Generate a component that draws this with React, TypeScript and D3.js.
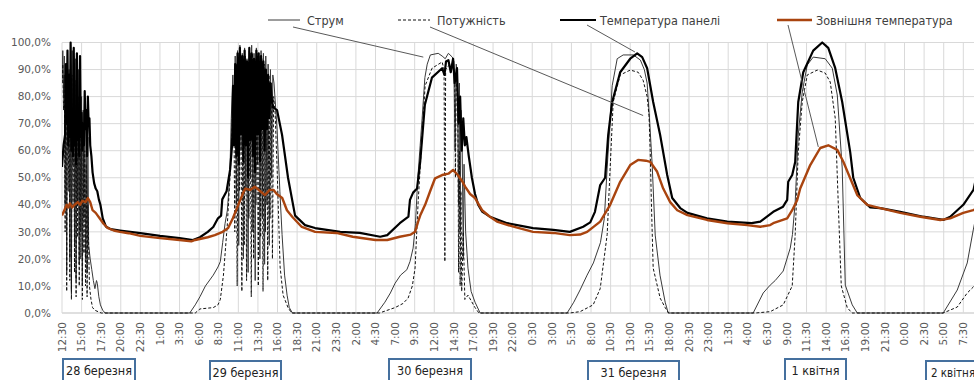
import React from "react";
import * as d3 from "d3";

type Pt = [number, number];

// hours since 28 березня 12:30, step between axis labels = 2.5 h
const tickStepHours = 2.5;
const xTickLabels = [
  "12:30", "15:00", "17:30", "20:00", "22:30", "1:00", "3:30", "6:00", "8:30", "11:00",
  "13:30", "16:00", "18:30", "21:00", "23:30", "2:00", "4:30", "7:00", "9:30", "12:00",
  "14:30", "17:00", "19:30", "22:00", "0:30", "3:00", "5:30", "8:00", "10:30", "13:00",
  "15:30", "18:00", "20:30", "23:00", "1:30", "4:00", "6:30", "9:00", "11:30", "14:00",
  "16:30", "19:00", "21:30", "0:00", "2:30", "5:00", "7:30",
];
const yTicks = [0, 10, 20, 30, 40, 50, 60, 70, 80, 90, 100];

const legendLabels = ["Струм", "Потужність", "Температура панелі", "Зовнішня температура"];
const dateLabels = ["28 березня", "29 березня", "30 березня", "31 березня", "1 квітня", "2 квітня"];

// [hours, %]
const current: Pt[] = [
  [0, 85], [0.1, 97], [0.2, 80], [0.3, 95], [0.4, 40], [0.5, 92], [0.6, 15], [0.7, 96], [0.8, 60], [0.9, 90],
  [1.0, 20], [1.1, 99], [1.2, 8], [1.3, 97], [1.4, 55], [1.5, 95], [1.6, 25], [1.7, 94], [1.8, 12], [1.9, 93],
  [2.0, 40], [2.1, 90], [2.2, 18], [2.3, 88], [2.4, 30], [2.5, 80], [2.6, 10], [2.7, 75], [2.8, 35], [2.9, 72],
  [3.0, 20], [3.1, 70], [3.2, 15], [3.3, 65], [3.4, 25], [3.6, 20], [3.8, 16], [4.0, 12], [4.2, 9], [4.4, 12],
  [4.5, 11], [4.7, 6], [4.9, 3], [5.2, 1], [5.5, 0], [16.3, 0],
  [17.0, 3], [17.6, 6], [18.3, 10], [19.3, 14], [19.9, 17], [20.2, 19], [20.5, 26], [20.8, 33], [21.1, 38],
  [21.4, 50], [21.6, 72],
  [21.8, 88], [21.95, 70], [22.1, 95], [22.25, 40], [22.4, 97], [22.55, 25], [22.7, 99], [22.85, 60], [23.0, 96],
  [23.15, 20], [23.3, 98], [23.45, 45], [23.6, 94], [23.75, 15], [23.9, 97], [24.05, 50], [24.2, 99], [24.35, 30],
  [24.5, 96], [24.65, 12], [24.8, 98], [24.95, 55], [25.1, 95], [25.25, 20], [25.4, 97], [25.55, 35], [25.7, 96],
  [25.85, 18], [26.0, 95], [26.15, 40], [26.3, 92], [26.45, 25], [26.6, 90], [26.75, 50], [26.9, 88], [27.05, 85],
  [27.44, 68], [27.8, 45], [28.08, 29], [28.4, 14], [28.72, 6.6], [29.0, 2], [29.4, 0], [40.2, 0],
  [41.2, 4], [41.9, 7.4], [42.5, 11], [43.2, 14], [44.0, 16], [44.4, 19], [44.8, 24], [45.1, 33], [45.4, 50],
  [45.7, 62], [45.95, 72], [46.3, 87], [46.6, 92], [47.0, 95.4], [48.0, 96], [48.5, 95], [48.9, 94], [49.3, 96],
  [49.8, 94.6], [50.0, 93], [50.15, 60], [50.3, 92], [50.45, 88], [50.6, 40], [50.7, 85], [50.8, 30], [50.9, 75],
  [51.05, 65], [51.2, 20], [51.3, 55], [51.5, 30], [51.8, 16.6], [52.2, 8], [52.7, 4], [53.35, 0], [64.45, 0],
  [65.3, 4], [66.1, 8.5], [67.0, 14], [67.8, 18.5], [68.7, 26], [69.2, 35], [69.56, 53.6], [70.2, 84], [70.84, 94],
  [71.6, 95.4], [72.9, 95.4], [73.8, 93.5], [74.3, 90], [74.66, 85], [75.0, 70], [75.3, 55], [75.69, 28.8],
  [76.3, 14], [76.96, 4], [77.35, 0], [88.19, 0],
  [89.47, 7.4], [90.36, 10.3], [91.0, 12], [92.02, 15.5], [92.92, 24], [93.2, 29], [93.55, 41], [93.94, 65.8],
  [94.45, 81.7], [95.09, 91.7], [95.85, 94.6], [97.38, 94], [98.28, 90.5], [98.92, 80.6], [99.55, 53.6],
  [99.94, 10.3], [100.83, 3], [101.47, 0], [112.44, 0],
  [114.23, 8.5], [115.5, 18.5], [116.27, 30.7], [116.7, 37],
];

const power: Pt[] = [
  [0, 85], [0.1, 92], [0.2, 75], [0.3, 88], [0.4, 30], [0.5, 85], [0.6, 8], [0.7, 90], [0.8, 45], [0.9, 80],
  [1.0, 12], [1.1, 92], [1.2, 5], [1.3, 88], [1.4, 40], [1.5, 85], [1.6, 15], [1.7, 86], [1.8, 6], [1.9, 84],
  [2.0, 28], [2.1, 80], [2.2, 10], [2.3, 78], [2.4, 20], [2.5, 70], [2.6, 5], [2.7, 62], [2.8, 22], [2.9, 60],
  [3.0, 10], [3.1, 55], [3.2, 6], [3.3, 40], [3.5, 10], [3.7, 5], [3.9, 2], [4.2, 1], [4.6, 0.5], [5.0, 0],
  [17.0, 0], [17.6, 1.5], [19.3, 2], [19.9, 3], [20.2, 5], [20.6, 14], [21.1, 33], [21.6, 59],
  [21.9, 84], [22.05, 30], [22.2, 90], [22.35, 10], [22.5, 92], [22.65, 45], [22.8, 94], [22.95, 8], [23.1, 93],
  [23.25, 25], [23.4, 95], [23.55, 12], [23.7, 92], [23.85, 35], [24.0, 94], [24.15, 6], [24.3, 96], [24.45, 20],
  [24.6, 93], [24.75, 40], [24.9, 95], [25.05, 10], [25.2, 92], [25.35, 28], [25.5, 94], [25.65, 8], [25.8, 92],
  [25.95, 30], [26.1, 90], [26.25, 12], [26.4, 88], [26.55, 35], [26.7, 85], [26.85, 20], [27.0, 80],
  [27.19, 74], [27.44, 54], [27.83, 17], [28.21, 6.6], [28.84, 2], [29.3, 0], [40.5, 0],
  [42.5, 2], [43.5, 3.5], [44.16, 5.5], [44.7, 10], [45.05, 16.6], [45.44, 41], [45.95, 65.8], [46.33, 84],
  [47.22, 90.5], [48.5, 92.8], [48.75, 90], [48.85, 19], [48.95, 90], [49.5, 92], [49.9, 91], [50.1, 88],
  [50.2, 50], [50.3, 86], [50.5, 80], [50.6, 15], [50.7, 60], [50.8, 10], [50.9, 45], [51.0, 8], [51.2, 30],
  [51.4, 5], [51.8, 6.6], [52.7, 2], [53.2, 0], [64.8, 0],
  [66.1, 0.5], [67.77, 3], [68.67, 9], [69.56, 29], [69.94, 53.6], [70.33, 78], [71.22, 88], [72.5, 89.8],
  [73.52, 89], [74.15, 86], [74.66, 80], [74.9, 73], [75.05, 60], [75.2, 41], [75.43, 16.6], [76.32, 5.5],
  [76.96, 2], [77.4, 0], [88.5, 0],
  [90.36, 0.5], [92.02, 3], [93.17, 10], [93.55, 29], [93.94, 59.5], [94.45, 78], [95.09, 88], [96.36, 89.8],
  [97.38, 88.7], [98.02, 85.4], [98.66, 72], [99.04, 41], [99.43, 10], [100.19, 2], [100.8, 0], [112.44, 0],
  [114.23, 2.2], [115.5, 7.4], [116.27, 9.6], [116.7, 11],
];

const panelTemp: Pt[] = [
  [0, 54], [0.2, 62], [0.4, 66], [0.5, 92], [0.6, 70], [0.7, 97], [0.8, 62], [0.9, 88], [1.0, 65], [1.1, 100],
  [1.2, 60], [1.3, 75], [1.4, 58], [1.5, 98], [1.6, 62], [1.7, 72], [1.8, 55], [1.9, 96], [2.0, 64], [2.1, 70],
  [2.2, 58], [2.3, 95], [2.4, 65], [2.5, 74], [2.6, 60], [2.7, 70], [2.8, 62], [2.9, 82], [3.0, 68], [3.1, 75],
  [3.2, 58], [3.3, 80], [3.4, 70], [3.5, 72], [3.6, 62], [3.75, 58], [3.9, 52], [4.1, 48], [4.3, 46], [4.5, 45],
  [4.7, 42], [4.9, 40], [5.2, 35], [5.6, 32], [6.2, 31], [7.4, 30.5], [10, 29.5], [12.5, 28.5], [15, 27.7],
  [16.7, 27], [17.6, 28], [18.6, 30], [19.3, 31.8], [19.9, 35], [20.3, 36], [20.45, 42], [21.0, 45], [21.45, 53],
  [21.7, 62],
  [21.83, 84], [21.95, 62], [22.1, 92], [22.25, 58], [22.4, 96], [22.55, 55], [22.7, 98], [22.85, 66], [23.0, 95],
  [23.15, 56], [23.3, 97], [23.45, 62], [23.6, 93], [23.75, 50], [23.9, 98], [24.05, 64], [24.2, 96], [24.35, 58],
  [24.5, 94], [24.65, 52], [24.8, 97], [24.95, 66], [25.1, 96], [25.25, 56], [25.4, 95], [25.55, 68], [25.7, 93],
  [25.85, 60], [26.0, 90], [26.15, 68], [26.3, 88], [26.45, 72], [26.6, 85], [26.8, 78], [26.93, 76],
  [27.44, 75], [28.08, 65.8], [28.84, 50], [29.74, 36], [31.01, 32.5], [32.29, 31.4], [35.5, 30], [38.0, 29.6],
  [40.6, 28.2], [41.5, 28.8], [43.1, 33.2], [44.2, 35.6], [44.4, 41.8], [44.8, 44.5], [45.3, 46], [45.7, 55.8],
  [46.3, 77], [47.2, 87], [48.5, 90.5], [48.8, 88], [49.0, 93], [49.3, 93.5], [49.6, 89], [49.9, 94], [50.1, 85],
  [50.4, 90.5], [50.6, 70], [50.8, 80], [51.0, 60], [51.2, 72], [51.4, 62], [51.6, 65], [51.9, 58], [52.3, 50],
  [52.7, 44], [53.1, 40], [53.6, 37.5], [54.6, 35.6], [56.8, 33.2], [60.1, 31.4], [62.7, 30.7], [64.8, 30],
  [66.5, 31.9], [67.4, 33.5], [68.0, 37.4], [68.67, 47.3], [69.3, 50], [69.69, 65.8], [70.2, 78], [71.22, 89],
  [72.5, 94], [73.39, 96], [74.03, 94.6], [74.66, 90.5], [75.43, 78], [76.32, 65.8], [77.22, 51], [77.86, 42.5],
  [78.88, 38.8], [79.8, 37], [82.3, 35], [84.9, 33.8], [88.0, 33.2], [89.1, 33.8], [90.75, 37.4], [92.0, 39.3],
  [92.53, 41.8], [92.66, 48.5], [93.17, 51], [93.55, 55.8], [93.94, 78], [94.58, 89], [95.85, 97], [97.0, 100],
  [97.77, 98], [98.66, 90.5], [99.55, 78], [100.57, 59.5], [100.96, 50], [101.85, 42.5], [103.13, 39],
  [104.4, 38.8], [106.95, 37.4], [109.89, 35.6], [112.44, 34.4], [113.33, 35.6], [115.0, 40], [116.3, 45.5],
  [116.7, 51],
];

const ambientTemp: Pt[] = [
  [0, 36], [0.3, 38], [0.6, 40], [0.8, 39], [1.0, 40.5], [1.3, 39], [1.6, 40], [2.0, 41], [2.3, 40], [2.6, 41.5],
  [3.0, 41], [3.3, 42.5], [3.6, 41], [3.9, 38], [4.3, 37], [4.8, 35], [5.3, 33], [5.8, 31.5], [6.6, 30.5],
  [7.4, 30], [8.5, 29.5], [10, 28.5], [12.5, 27.7], [15, 27], [16.5, 26.5], [17.0, 27], [18.6, 28], [19.5, 28.8],
  [20.5, 30], [21.2, 31.4], [21.8, 35], [22.5, 40], [23.2, 45], [23.4, 46], [24.0, 45.5], [24.6, 46.7],
  [25.3, 45], [25.9, 43.6], [26.5, 45.5], [27.0, 45.5], [27.4, 44], [28.1, 42.5], [28.7, 38], [29.4, 35.5],
  [30.6, 31.8], [32.3, 30], [35, 29.6], [37.1, 28.2], [40, 27], [41.5, 27], [43.1, 28.2], [44.5, 29], [45.05, 30],
  [45.44, 33.8], [45.7, 36], [46.33, 40], [46.97, 45], [47.6, 49.8], [48.5, 51], [49.3, 51.5], [49.9, 52.9],
  [50.5, 51], [51.0, 49], [51.44, 46.7], [52.07, 44], [52.7, 42.5], [53.6, 38], [54.6, 35.6], [55.5, 33.8],
  [57.6, 31.9], [60.1, 30], [62.7, 29.6], [64.8, 28.8], [66.1, 29], [67.0, 30], [68.67, 33.8], [69.94, 40],
  [71.22, 48.5], [72.5, 54.7], [73.5, 56.6], [74.5, 56.3], [75.05, 55.9], [75.94, 52.2], [76.71, 46],
  [77.6, 41], [78.5, 38], [79.8, 36.2], [82.3, 34.4], [84.9, 33.2], [87.43, 32.5], [89.09, 31.9], [90.36, 32.5],
  [90.75, 33.2], [92.53, 35], [93.17, 38], [93.81, 41.8], [94.19, 46], [95.47, 54.7], [96.75, 61], [97.77, 62],
  [98.92, 60.3], [99.68, 56], [100.57, 49.8], [101.47, 43.6], [102.74, 40], [104.4, 38.8], [106.95, 37],
  [109.51, 35.6], [112.06, 34.4], [113.33, 35], [114.99, 37], [116.27, 38], [116.7, 38.5],
];

// where each legend leader line touches its curve [hours, %]
const leaderTargets: Pt[] = [[46.1, 94.6], [74.15, 73], [73.1, 96.5], [96.5, 61.4]];

const seriesData = [current, power, panelTemp, ambientTemp];
const seriesStyle = [
  { stroke: "#3a3a3a", width: 1, dash: "" },
  { stroke: "#111", width: 1, dash: "3,2" },
  { stroke: "#000", width: 2.2, dash: "" },
  { stroke: "#a9440f", width: 2.4, dash: "" },
];
const legendPos = [
  { x0: 268, x1: 300, tx: 307, from: [293, 27] },
  { x0: 398, x1: 430, tx: 437, from: [430, 27] },
  { x0: 560, x1: 596, tx: 600, from: [587, 25] },
  { x0: 777, x1: 812, tx: 816, from: [788, 25] },
];
const dateBoxPos = [
  { x: 63, y: 359, w: 72 },
  { x: 210, y: 361, w: 71 },
  { x: 389, y: 359, w: 82 },
  { x: 588, y: 361, w: 91 },
  { x: 785, y: 359, w: 61 },
  { x: 926, y: 361, w: 64 },
];

const narrow = "'DejaVu Sans Condensed', 'Liberation Sans Narrow', sans-serif";

export default function App() {
  const W = 974;
  const H = 380;
  const left = 62;
  const top = 42.5;
  const bottom = 313;

  const x = d3.scaleLinear().domain([0, 115]).range([left, 963.3]);
  const y = d3.scaleLinear().domain([0, 100]).range([bottom, top]);
  const line = d3.line<Pt>().x((d) => x(d[0])).y((d) => y(d[1]));
  const fmt = (v: number) => d3.format(".1f")(v).replace(".", ",") + "%";

  return (
    <svg width={W} height={H} style={{ position: "absolute", left: 0, top: 0, background: "#fff" }}>
      <defs>
        <clipPath id="plot">
          <rect x={left} y={0} width={W - left} height={bottom + 1} />
        </clipPath>
      </defs>

      {/* grid */}
      {yTicks.map((t) => (
        <line key={"h" + t} x1={left} x2={W} y1={y(t)} y2={y(t)} stroke={t === 0 ? "#bfbfbf" : "#d9d9d9"} strokeWidth={1} />
      ))}
      {xTickLabels.map((l, i) => (
        <line key={"v" + i} x1={x(i * tickStepHours)} x2={x(i * tickStepHours)} y1={top} y2={bottom} stroke="#d9d9d9" strokeWidth={1} />
      ))}

      {/* y labels */}
      {yTicks.map((t) => (
        <text key={"yl" + t} x={51} y={y(t)} dy="0.35em" textAnchor="end" fontFamily="DejaVu Sans" fontSize={10.5} fill="#595959">
          {fmt(t)}
        </text>
      ))}

      {/* x labels */}
      {xTickLabels.map((l, i) => (
        <text
          key={"xl" + i}
          transform={`translate(${x(i * tickStepHours)},322) rotate(-90)`}
          dy="0.35em"
          textAnchor="end"
          fontFamily="DejaVu Sans"
          fontSize={10.5}
          fill="#595959"
        >
          {l}
        </text>
      ))}

      {/* series */}
      <g clipPath="url(#plot)" fill="none" strokeLinejoin="round">
        {seriesData.map((d, i) => (
          <path
            key={"s" + i}
            d={line(d) || ""}
            stroke={seriesStyle[i].stroke}
            strokeWidth={seriesStyle[i].width}
            strokeDasharray={seriesStyle[i].dash || undefined}
          />
        ))}
      </g>

      {/* legend with leader lines */}
      {legendLabels.map((lab, i) => {
        const p = legendPos[i];
        const s = seriesStyle[i];
        const tgt = leaderTargets[i];
        return (
          <g key={"lg" + i}>
            <line x1={p.x0} x2={p.x1} y1={20} y2={20} stroke={s.stroke} strokeWidth={s.width} strokeDasharray={s.dash || undefined} />
            <text x={p.tx} y={25} fontFamily={narrow} fontSize={12.5} fill="#404040">
              {lab}
            </text>
            <line x1={p.from[0]} y1={p.from[1]} x2={x(tgt[0])} y2={y(tgt[1])} stroke="#595959" strokeWidth={1} />
          </g>
        );
      })}

      {/* date boxes */}
      {dateLabels.map((lab, i) => {
        const b = dateBoxPos[i];
        const last = i === dateLabels.length - 1;
        return (
          <g key={"db" + i}>
            <rect x={b.x} y={b.y} width={b.w} height={22} fill="#fff" stroke="#45709e" strokeWidth={2} />
            <text
              x={last ? b.x + 5 : b.x + b.w / 2}
              y={b.y + 16}
              textAnchor={last ? "start" : "middle"}
              fontFamily={narrow}
              fontSize={last ? 11.5 : 12.5}
              fill="#222"
            >
              {lab}
            </text>
          </g>
        );
      })}
    </svg>
  );
}
